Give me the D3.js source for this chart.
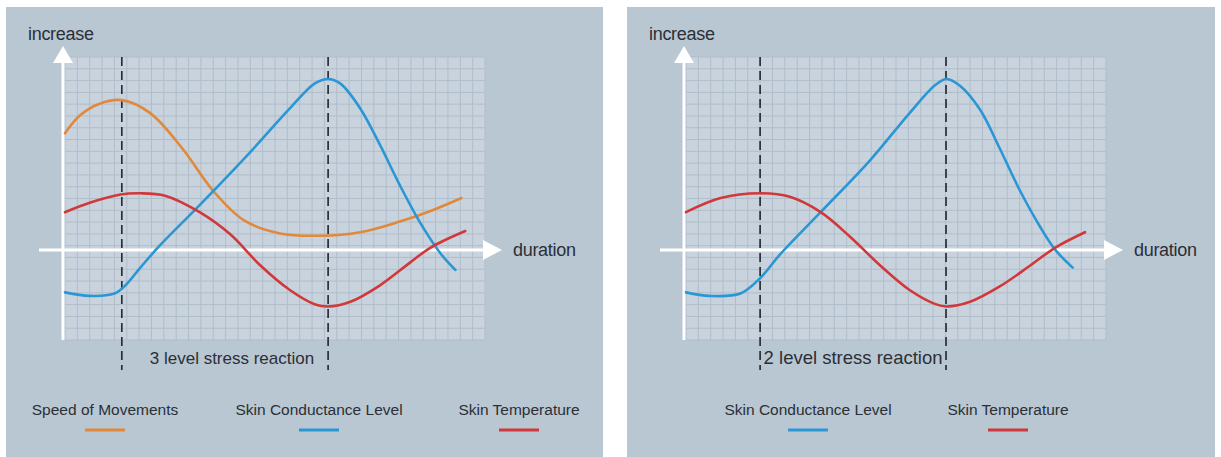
<!DOCTYPE html>
<html>
<head>
<meta charset="utf-8">
<script src="https://cdn.jsdelivr.net/npm/d3@7"></script>
<style>
  html, body { margin: 0; padding: 0; background: #ffffff; }
  svg { display: block; }
  text { font-family: "Liberation Sans", Arial, Helvetica, sans-serif; fill: #2b2f35; }
</style>
</head>
<body>
<svg id="chart" width="1221" height="457"></svg>
<script>
// ---------- data (x = duration in grid units, y = increase in grid units) ----------
const leftSpeed = [[0,9.9],[1.2,11.4],[2.8,12.4],[4.6,12.7],[6.9,11.6],[9.5,8.6],[12.0,5.0],[14.5,2.5],[17.4,1.4],[20.6,1.2],[23.9,1.5],[27.1,2.4],[29.6,3.3],[32.1,4.4]];
const leftConductance = [[0,-3.6],[2.0,-3.9],[4.0,-3.7],[4.9,-3.0],[6.1,-1.5],[7.7,0.4],[10.9,3.8],[15.0,8.3],[18.2,12.0],[20.2,14.1],[21.3,14.5],[22.3,14.1],[23.9,12.0],[25.5,8.9],[27.1,5.5],[28.7,2.4],[30.4,-0.3],[31.6,-1.7]];
const leftTemperature = [[0,3.2],[2.0,4.0],[4.5,4.7],[6.1,4.8],[8.1,4.6],[10.9,3.2],[13.4,1.3],[15.8,-1.3],[18.2,-3.4],[20.2,-4.6],[21.3,-4.8],[23.1,-4.4],[25.5,-3.0],[27.9,-1.1],[29.6,0.2],[32.4,1.6]];

const rightConductance = [[0,-3.6],[1.9,-3.9],[4.4,-3.7],[6.0,-2.4],[7.6,-0.4],[10.9,3.2],[14.9,7.6],[18.1,11.6],[20.2,14.0],[21.1,14.5],[22.2,13.9],[23.8,11.9],[25.4,8.6],[27.0,5.1],[28.7,1.9],[29.9,0],[31.3,-1.5]];
const rightTemperature = [[0,3.2],[2.8,4.4],[6.0,4.8],[8.4,4.5],[10.9,3.2],[13.3,1.1],[15.7,-1.3],[18.1,-3.4],[20.2,-4.6],[21.1,-4.8],[23.0,-4.4],[25.4,-3.1],[27.9,-1.3],[29.9,0.2],[32.3,1.5]];

const leftMarkers = [4.6, 21.3];
const rightMarkers = [6.0, 21.05];
const leftReactionLabel = "3 level stress reaction";
const rightReactionLabel = "2 level stress reaction";
const yAxisLabel = "increase";
const xAxisLabel = "duration";

const leftLegend = ["Speed of Movements", "Skin Conductance Level", "Skin Temperature"];
const rightLegend = ["Skin Conductance Level", "Skin Temperature"];

const seriesColors = {
  "Speed of Movements": "#e0893a",
  "Skin Conductance Level": "#2a97d4",
  "Skin Temperature": "#d0383a"
};

// ---------- layout ----------
const svg = d3.select("#chart");
const panels = [
  { x0: 6, x1: 603, gridX0: 65, series: [["Speed of Movements", leftSpeed], ["Skin Conductance Level", leftConductance], ["Skin Temperature", leftTemperature]],
    markers: leftMarkers, label: leftReactionLabel, labelSize: 17, labelShift: 7, legend: leftLegend, legendCenters: [105, 319, 519] },
  { x0: 627, x1: 1215, gridX0: 686, series: [["Skin Conductance Level", rightConductance], ["Skin Temperature", rightTemperature]],
    markers: rightMarkers, label: rightReactionLabel, labelSize: 18.5, labelShift: 0, legend: rightLegend, legendCenters: [808, 1008] }
];

const xDomain = [0, 34];
const yDomain = [-7.64, 16.36];
const gridTop = 57, gridBottom = 340;

panels.forEach(p => {
  const g = svg.append("g");
  g.append("rect").attr("x", p.x0).attr("y", 7).attr("width", p.x1 - p.x0).attr("height", 450).attr("fill", "#b9c7d3");

  const x = d3.scaleLinear().domain(xDomain).range([p.gridX0, p.gridX0 + 420]);
  const y = d3.scaleLinear().domain(yDomain).range([gridBottom, gridTop]);

  // grid background
  g.append("rect").attr("x", x(xDomain[0])).attr("y", gridTop)
    .attr("width", x(xDomain[1]) - x(xDomain[0])).attr("height", gridBottom - gridTop)
    .attr("fill", "#c8d3de");

  const gx = d3.range(xDomain[0], xDomain[1] + 0.001, 1);
  const gy = d3.range(yDomain[1], yDomain[0] - 0.001, -1);
  g.append("g").selectAll("line").data(gx).join("line")
    .attr("x1", d => x(d)).attr("x2", d => x(d)).attr("y1", gridTop).attr("y2", gridBottom)
    .attr("stroke", "#b0bdca").attr("stroke-width", 1);
  g.append("g").selectAll("line").data(gy).join("line")
    .attr("y1", d => y(d)).attr("y2", d => y(d)).attr("x1", x(xDomain[0])).attr("x2", x(xDomain[1]))
    .attr("stroke", "#b0bdca").attr("stroke-width", 1);

  // axes (white arrows)
  const ax0 = x(0) - 2;
  g.append("line").attr("x1", ax0).attr("x2", ax0).attr("y1", gridBottom).attr("y2", 60)
    .attr("stroke", "#ffffff").attr("stroke-width", 3);
  g.append("path").attr("d", `M${ax0},46 L${ax0 - 10},63 L${ax0 + 10},63 Z`).attr("fill", "#ffffff");

  const ay = y(0);
  g.append("line").attr("x1", p.gridX0 - 26).attr("x2", x(xDomain[1])).attr("y1", ay).attr("y2", ay)
    .attr("stroke", "#ffffff").attr("stroke-width", 3);
  g.append("path").attr("d", `M${x(xDomain[1]) - 2},${ay - 10} L${x(xDomain[1]) + 17},${ay} L${x(xDomain[1]) - 2},${ay + 10} Z`).attr("fill", "#ffffff");

  g.append("text").attr("x", ax0 - 35).attr("y", 40).attr("font-size", 18).attr("letter-spacing", -0.3).text(yAxisLabel);
  g.append("text").attr("x", x(xDomain[1]) + 28).attr("y", ay + 6).attr("font-size", 18).attr("letter-spacing", -0.3).text(xAxisLabel);

  // dashed markers
  g.append("g").selectAll("line").data(p.markers).join("line")
    .attr("x1", d => x(d)).attr("x2", d => x(d)).attr("y1", gridTop).attr("y2", 370)
    .attr("stroke", "#2b2f35").attr("stroke-width", 1.7).attr("stroke-dasharray", "9,5");

  g.append("text").attr("x", (x(p.markers[0]) + x(p.markers[1])) / 2 + p.labelShift).attr("y", 364)
    .attr("text-anchor", "middle").attr("font-size", p.labelSize).text(p.label);

  // curves
  const line = d3.line().x(d => x(d[0])).y(d => y(d[1])).curve(d3.curveCatmullRom.alpha(0.5));
  g.append("g").selectAll("path").data(p.series).join("path")
    .attr("d", d => line(d[1])).attr("fill", "none")
    .attr("stroke", d => seriesColors[d[0]]).attr("stroke-width", 2.6)
    .attr("stroke-linecap", "round");

  // legend
  const lg = g.append("g").selectAll("g").data(p.legend).join("g")
    .attr("transform", (d, i) => `translate(${p.legendCenters[i]},0)`);
  lg.append("text").attr("y", 415).attr("text-anchor", "middle").attr("font-size", 15.5).text(d => d);
  lg.append("line").attr("x1", -20).attr("x2", 20).attr("y1", 430).attr("y2", 430)
    .attr("stroke", d => seriesColors[d]).attr("stroke-width", 3);
});
</script>
</body>
</html>
